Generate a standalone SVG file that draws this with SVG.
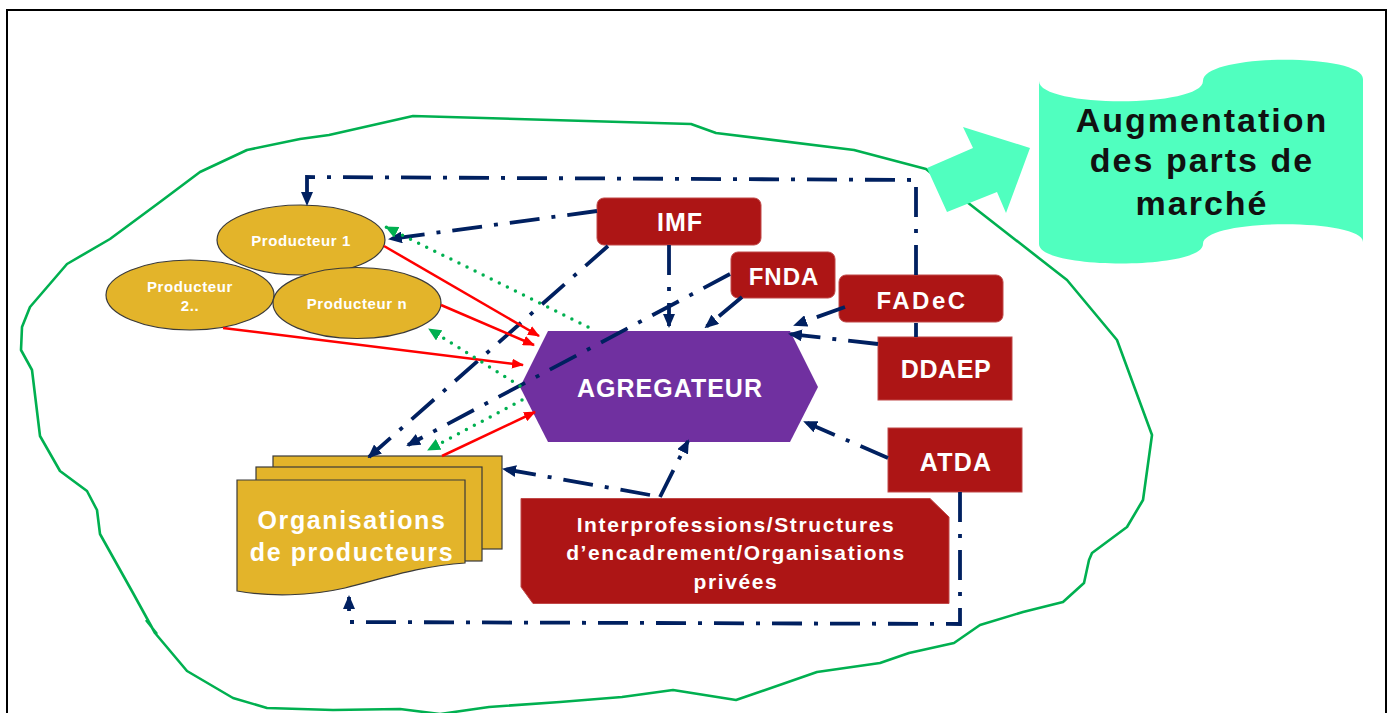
<svg xmlns="http://www.w3.org/2000/svg" width="1392" height="713" viewBox="0 0 1392 713">
<style>
.nav{fill:none;stroke:#002060;stroke-width:3.8;stroke-dasharray:30 12 4 12}
.red{fill:none;stroke:#FF0000;stroke-width:2.5}
.grn{fill:none;stroke:#00B050;stroke-width:3.5;stroke-dasharray:0 9;stroke-linecap:round}
.gold{fill:#E3B42A;stroke:#3a3a3a;stroke-width:1.2}
.box{fill:#AD1515;stroke:#C04848;stroke-width:1}
.wt{fill:#FFFFFF;font-family:"Liberation Sans",Arial,sans-serif;font-weight:bold;text-anchor:middle}
.bt{fill:#111111;font-family:"Liberation Sans",Arial,sans-serif;font-weight:bold;text-anchor:middle}
</style>
<defs>
<marker id="an" viewBox="0 0 14 12" markerWidth="14" markerHeight="12" refX="12" refY="6" orient="auto" markerUnits="userSpaceOnUse"><path d="M0,0 L14,6 L0,12 z" fill="#002060"/></marker>
<marker id="ar" viewBox="0 0 12 10" markerWidth="12" markerHeight="10" refX="11" refY="5" orient="auto" markerUnits="userSpaceOnUse"><path d="M0,0 L12,5 L0,10 z" fill="#FF0000"/></marker>
<marker id="ag" viewBox="0 0 13 12" markerWidth="13" markerHeight="12" refX="12" refY="6" orient="auto" markerUnits="userSpaceOnUse"><path d="M0,0 L13,6 L0,12 z" fill="#00B050"/></marker>
</defs>
<rect width="1392" height="713" fill="#FFFFFF"/>
<rect x="7" y="10" width="1379" height="720" fill="none" stroke="#000000" stroke-width="2"/>

<g id="outline">
<path fill="none" stroke="#00B050" stroke-width="2.6" stroke-linejoin="round" d="M300,139 L247,150 L200,172 L160,202 L110,239 L67,264 L30,307 L22,327 L21,350 L32,370 L40,436 L60,471 L87,491 L97,510 L100,534 L133,593 L155,633 L187,671 L233,698 L267,708 L333,710 L400,709 L440,714 L489,707 L560,702 L622,697 L673,690 L736,700 L817,672 L880,663 L909,653 L954,643 L980,625 L1023,612 L1063,602 L1084,583 L1089,560 L1092,553 L1127,527 L1143,500 L1152,435 L1117,340 L1067,280 L967,202 L926,169 L854,150 L716,133 L691,124 L413,116 L329,135 Z M146,620 L157,634"/>
</g>

<g id="cible">
<path d="M1039,81 C1039,108 1203,108 1203,81 C1203,53 1363,53 1363,79 V242 C1363,218 1203,218 1203,244 C1203,270 1039,270 1039,244 Z" fill="#50FFBF"/>
<polygon points="927,168 973,148 963,127 1030,148 1006,213 997,192 947,212" fill="#50FFBF"/>
<text class="bt" x="1202" y="132" font-size="34" letter-spacing="2">Augmentation</text>
<text class="bt" x="1202" y="172" font-size="34" letter-spacing="2">des parts de</text>
<text class="bt" x="1202" y="215" font-size="34" letter-spacing="2">marché</text>
</g>

<g id="producteur1">
<ellipse class="gold" cx="301" cy="240" rx="84" ry="35"/>
<text class="wt" x="301" y="246" font-size="15" letter-spacing="0.6">Producteur 1</text>
</g>
<g id="producteur2">
<ellipse class="gold" cx="190" cy="295" rx="84" ry="35"/>
<text class="wt" x="190" y="292" font-size="15" letter-spacing="0.6">Producteur</text>
<text class="wt" x="190" y="311" font-size="15" letter-spacing="0.6">2..</text>
</g>
<g id="producteurn">
<ellipse class="gold" cx="357" cy="303" rx="84" ry="35.5"/>
<text class="wt" x="357" y="309" font-size="15" letter-spacing="0.6">Producteur n</text>
</g>

<g id="organisations">
<rect class="gold" x="273" y="456" width="229" height="93"/>
<rect class="gold" x="256" y="467" width="226" height="94"/>
<path class="gold" d="M237,480 H465 V563 C420,566 385,578 345,588 C310,596 270,597 237,591 Z"/>
<text class="wt" x="352" y="529" font-size="25" letter-spacing="1.6">Organisations</text>
<text class="wt" x="352" y="561" font-size="25" letter-spacing="1.6">de producteurs</text>
</g>

<g id="agregateur">
<polygon points="548,331 790,331 818,387 790,442 548,442 520,387" fill="#7030A0"/>
<text class="wt" x="670" y="397" font-size="25" letter-spacing="1">AGREGATEUR</text>
</g>

<g id="imf">
<rect class="box" x="597" y="198" width="164" height="47" rx="7"/>
<text class="wt" x="680" y="231" font-size="25" letter-spacing="1">IMF</text>
</g>
<g id="fnda">
<rect class="box" x="731" y="252" width="104" height="46" rx="7"/>
<text class="wt" x="784" y="285" font-size="24" letter-spacing="1">FNDA</text>
</g>
<g id="fadec">
<rect class="box" x="839" y="275" width="164" height="47" rx="7"/>
<text class="wt" x="922" y="309" font-size="24" letter-spacing="2.5">FADeC</text>
</g>
<g id="ddaep">
<rect class="box" x="878" y="337" width="134" height="63"/>
<text class="wt" x="946" y="378" font-size="25" letter-spacing="0.6">DDAEP</text>
</g>
<g id="atda">
<rect class="box" x="888" y="428" width="134" height="64"/>
<text class="wt" x="956" y="471" font-size="25" letter-spacing="1.2">ATDA</text>
</g>
<g id="interpro">
<path class="box" d="M521,498.5 H930 L949,517 V603.5 H533 L521,587 Z"/>
<text class="wt" x="736" y="532" font-size="21" letter-spacing="1.6">Interprofessions/Structures</text>
<text class="wt" x="736" y="560" font-size="21" letter-spacing="1.6">d’encadrement/Organisations</text>
<text class="wt" x="736" y="589" font-size="21" letter-spacing="1.6">privées</text>
</g>

<g id="connectors">
<path class="nav" d="M916,275 V180 L307,177 V204" marker-end="url(#an)"/>
<path class="nav" d="M916,323 V337"/>
<path class="nav" d="M960,492 V624 L349,622 V597" marker-end="url(#an)"/>
<path class="nav" d="M597,211 L390,239" marker-end="url(#an)"/>
<path class="nav" d="M608,246 L369,457" marker-end="url(#an)"/>
<path class="nav" d="M669,245 V326" marker-end="url(#an)"/>
<path class="nav" d="M730,274 L408,445" marker-end="url(#an)"/>
<path class="nav" d="M742,297 L706,327" marker-end="url(#an)"/>
<path class="nav" d="M845,307 L795,325" marker-end="url(#an)"/>
<path class="nav" d="M878,344 L790,334" marker-end="url(#an)"/>
<path class="nav" d="M888,458 L805,422" marker-end="url(#an)"/>
<path class="nav" d="M660,497 L688,441" marker-end="url(#an)"/>
<path class="nav" d="M650,495 L504,469" marker-end="url(#an)"/>
<path class="red" d="M384,246 L539,336" marker-end="url(#ar)"/>
<path class="red" d="M441,305 L534,345" marker-end="url(#ar)"/>
<path class="red" d="M223,328 L523,365" marker-end="url(#ar)"/>
<path class="red" d="M442,456 L535,412" marker-end="url(#ar)"/>
<path class="grn" d="M588,327 L386,227" marker-end="url(#ag)"/>
<path class="grn" d="M520,386 L429,329" marker-end="url(#ag)"/>
<path class="grn" d="M522,400 L428,450" marker-end="url(#ag)"/>
</g>
</svg>
